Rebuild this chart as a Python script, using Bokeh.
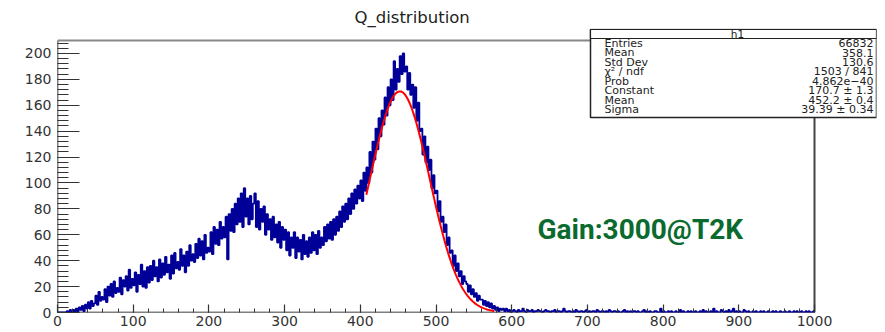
from bokeh.plotting import figure
from bokeh.models import Range1d, FixedTicker, Label, BoxAnnotation
from bokeh.embed import file_html
from bokeh.resources import INLINE
import math

# ---------------- data ----------------
BIN_WIDTH = 2
counts_main = [
    0, 0, 0, 0, 0,   0, 1, 0, 2, 0,   2, 0, 3, 1, 4,   2, 5, 1, 6, 3,
    8, 3, 9, 5, 7,   13, 6, 16, 9, 12,   10, 18, 8, 20, 13,   22, 12, 24, 15, 19,
    16, 27, 14, 25, 20,   28, 17, 33, 19, 26,   21, 31, 16, 29, 22,   37, 20, 32, 19, 35,
    23, 36, 25, 40, 28,   35, 24, 41, 27, 38,   29, 43, 31, 37, 26,   44, 30, 46, 34, 39,
    33, 49, 36, 44, 31,   47, 36, 52, 40, 45,   39, 53, 42, 57, 44,   55, 41, 60, 46, 50,
    47, 62, 45, 66, 53,   64, 52, 70, 57, 66,   58, 74, 41, 76, 63,   80, 62, 84, 68, 88,
    70, 92, 66, 96, 74,   88, 68, 90, 72, 84,   92, 66, 86, 64, 80,   70, 82, 60, 76, 64,
    72, 56, 74, 58, 68,   54, 70, 50, 66, 56,   64, 48, 62, 44, 58,   50, 62, 42, 58, 47,
    56, 41, 60, 45, 55,   43, 58, 46, 62, 48,   60, 45, 63, 50, 58,   52, 66, 55, 68, 57,
    70, 56, 72, 60, 74,   63, 78, 66, 82, 70,   84, 72, 88, 76, 92,   80, 95, 84, 98, 88,
    102, 86, 108, 94, 112,   100, 124, 108, 132, 118,   142, 126, 150, 136, 156,   145, 166, 152, 174, 160,
    180, 164, 194, 172, 188,   178, 198, 184, 200, 186,   190, 172, 185, 168, 176,   158, 174, 148, 162, 140,
    142, 122, 136, 116, 128,   110, 118, 96, 106, 92,   94, 78, 86, 70, 74,   62, 68, 52, 58, 46,
    48, 36, 44, 32, 38,   28, 32, 22, 28, 24,   22, 16, 21, 14, 18,   12, 15, 9, 13, 10,
    10, 6, 9, 5, 8,   4, 7, 3, 5, 2,   4, 1, 3, 2, 3,   1, 3, 1, 2, 0,
]
counts_tail = [
    1, 2, 1, 0, 2, 1, 1, 3, 1, 0, 2, 1, 1, 2, 0, 1, 1, 2, 1, 1,
    0, 1, 2, 1, 1, 0, 1, 1, 2, 0, 1, 1, 0, 1, 3, 1, 0, 1, 1, 0,
    1, 0, 2, 1, 0, 1, 1, 0, 1, 2, 0, 1, 0, 1, 1, 0, 2, 1, 0, 1,
    1, 0, 1, 0, 2, 1, 0, 1, 1, 0, 1, 0, 0, 1, 2, 0, 1, 0, 1, 0,
    1, 1, 0, 1, 0, 0, 1, 2, 0, 1, 0, 1, 0, 0, 1, 1, 0, 0, 3, 0,
    1, 0, 0, 1, 0, 1, 0, 0, 1, 0, 0, 2, 0, 1, 0, 0, 1, 0, 1, 0,
    0, 1, 0, 0, 1, 0, 2, 0, 1, 0, 0, 1, 0, 3, 0, 1, 0, 0, 2, 1,
    0, 1, 0, 2, 0, 1, 3, 0, 1, 0, 1, 0, 0, 2, 1, 0, 1, 0, 0, 1,
    0, 1, 0, 0, 1, 0, 1, 0, 0, 1, 0, 0, 1, 0, 1, 0, 0, 1, 0, 0,
    1, 0, 0, 1, 0, 0, 1, 0, 1, 0, 0, 1, 0, 0, 1, 0, 1, 0, 0, 1,
]
counts = counts_main + counts_tail

# Gaussian fit parameters (from the stats box) and the fit range
FIT_CONSTANT = 170.7
FIT_MEAN = 452.2
FIT_SIGMA = 39.39
FIT_RANGE = (408, 577)

stats_title = "h1"
stats_names = ["Entries", "Mean", "Std Dev", "\u03c7\u00b2 / ndf", "Prob",
               "Constant", "Mean", "Sigma"]
stats_values = ["66832", "358.1", "130.6", "1503 / 841", "4.862e\u221240",
                "170.7 \u00b1 1.3", "452.2 \u00b1 0.4", "39.39 \u00b1 0.34"]

TITLE = "Q_distribution"
NOTE = "Gain:3000@T2K"

x_major = [0, 100, 200, 300, 400, 500, 600, 700, 800, 900, 1000]
y_major = [0, 20, 40, 60, 80, 100, 120, 140, 160, 180, 200]

# ---------------- layout constants ----------------
X_MAX, Y_MAX = 1000, 210            # visible histogram frame
FR_L, FR_R, FR_T, FR_B = 57, 876, 28, 312   # plotting area in pixels (incl. stats box)
PX_PER_X = 757 / X_MAX
PX_PER_Y = 272 / Y_MAX
X_END = (FR_R - FR_L) / PX_PER_X
Y_END = (FR_B - FR_T) / PX_PER_Y


def dx(px):
    return (px - FR_L) / PX_PER_X


def dy(py):
    return (FR_B - py) / PX_PER_Y


p = figure(width=885, height=332, output_backend="svg", toolbar_location=None,
           x_range=Range1d(0, X_END), y_range=Range1d(0, Y_END),
           min_border_left=FR_L, min_border_right=885 - FR_R,
           min_border_top=FR_T, min_border_bottom=332 - FR_B)
p.background_fill_color = "white"
p.border_fill_color = "white"
p.grid.visible = False
p.outline_line_color = None

# title
p.title.text = TITLE
p.title.align = "left"
p.title.offset = 354 - FR_L
p.title.text_font = "DejaVu Sans"
p.title.text_font_size = "16.5px"
p.title.text_font_style = "normal"
p.title.text_color = "#222222"
p.title.standoff = 3

# visible frame (ROOT pad frame)
p.segment(x0=[0, 0, 0, X_MAX], y0=[0, 0, Y_MAX, 0],
          x1=[X_MAX, 0, X_MAX, X_MAX], y1=[0, Y_MAX, Y_MAX, Y_MAX],
          line_color=["black", "black", "#888888", "#444444"],
          line_width=[1.5, 1.5, 2, 2])

# histogram as step outline
edges = [i * BIN_WIDTH for i in range(len(counts) + 1)]
ys = counts + [counts[-1]]
p.step(edges, ys, mode="after", line_color="#000099", line_width=1.8)

# fit curve
fx = [FIT_RANGE[0] + k * (FIT_RANGE[1] - FIT_RANGE[0]) / 200 for k in range(201)]
fy = [FIT_CONSTANT * math.exp(-0.5 * ((x - FIT_MEAN) / FIT_SIGMA) ** 2) for x in fx]
p.line(fx, fy, line_color="#ff0000", line_width=2)

# axes
xa = p.xaxis[0]
xa.ticker = FixedTicker(ticks=x_major,
                        minor_ticks=[v for v in range(0, X_MAX + 1, 20)])
xa.major_tick_in = 8
xa.major_tick_out = 0
xa.minor_tick_in = 4
xa.minor_tick_out = 0
xa.major_label_standoff = 3
ya = p.yaxis[0]
ya.ticker = FixedTicker(ticks=y_major,
                        minor_ticks=[v for v in range(0, Y_MAX + 1, 4)])
ya.major_tick_in = 22
ya.major_tick_out = 0
ya.minor_tick_in = 11
ya.minor_tick_out = 0
ya.major_label_standoff = 6
for ax in (xa, ya):
    ax.axis_line_color = None
    ax.major_tick_line_color = "#333333"
    ax.minor_tick_line_color = "#333333"
    ax.major_tick_line_width = 1.2
    ax.major_label_text_font = "DejaVu Sans"
    ax.major_label_text_font_size = "14px"
    ax.major_label_text_color = "#333333"

# annotation text
p.add_layout(Label(x=dx(537), y=dy(229), text=NOTE, text_align="left",
                   text_baseline="middle", text_font="Roboto",
                   text_font_style="bold", text_font_size="28px",
                   text_color="#0b6b2e"))

# stats box
p.add_layout(BoxAnnotation(left=dx(590), right=dx(876), top=dy(29), bottom=dy(117),
                           fill_color="white", fill_alpha=1.0,
                           line_color="#222222", line_alpha=1.0, line_width=1.5))
p.add_layout(BoxAnnotation(left=dx(590), right=dx(876), top=dy(29), bottom=dy(38),
                           fill_color="white", fill_alpha=1.0,
                           line_color="#222222", line_alpha=1.0, line_width=1.2))
p.add_layout(Label(x=dx(737), y=dy(33.5), text=stats_title, text_align="center",
                   text_baseline="middle", text_font="DejaVu Sans",
                   text_font_size="10.5px", text_color="#222222"))
row_y = [42.5, 52, 61.5, 71, 80.5, 90, 99.5, 109]
for name, val, ry in zip(stats_names, stats_values, row_y):
    p.add_layout(Label(x=dx(604), y=dy(ry), text=name, text_align="left",
                       text_baseline="middle", text_font="DejaVu Sans",
                       text_font_size="11px", text_color="#222222"))
    p.add_layout(Label(x=dx(873), y=dy(ry), text=val, text_align="right",
                       text_baseline="middle", text_font="DejaVu Sans",
                       text_font_size="11px", text_color="#222222"))

open("out.html", "w").write(file_html(p, INLINE))
